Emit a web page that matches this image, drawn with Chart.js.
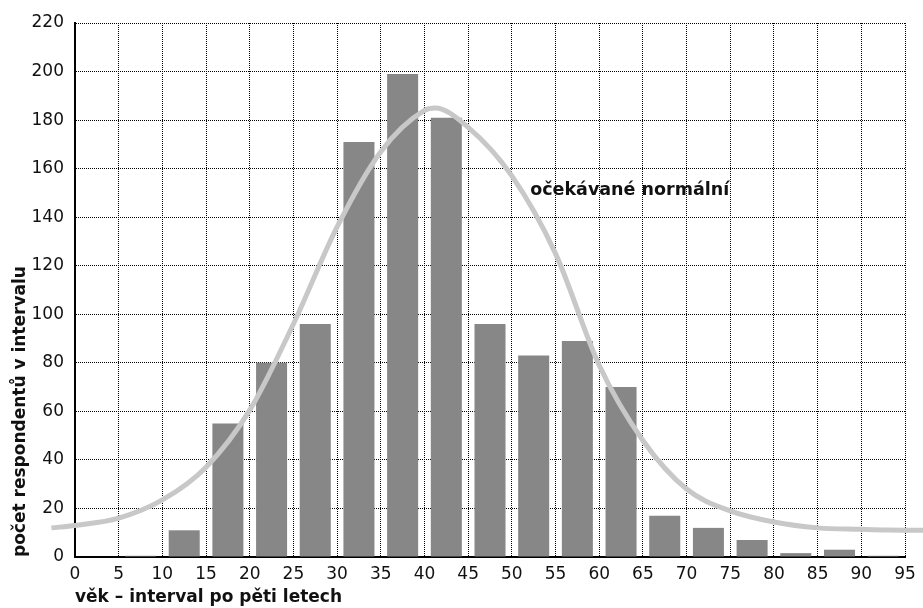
<!DOCTYPE html>
<html>
<head>
<meta charset="utf-8">
<script src="https://cdn.jsdelivr.net/npm/chart.js@4/dist/chart.umd.min.js"></script>
<style>
  html, body { margin: 0; padding: 0; background: #fff; }
  #wrap { width: 923px; height: 608px; }
</style>
</head>
<body>
<div id="wrap"><canvas id="chart" width="923" height="608"></canvas></div>
<script>
// age bins (start of each 5-year interval) and respondent counts
const binStarts = [0, 5, 10, 15, 20, 25, 30, 35, 40, 45, 50, 55, 60, 65, 70, 75, 80, 85, 90];
const counts    = [0, 0.5, 11, 55, 80, 96, 171, 199, 181, 96, 83, 89, 70, 17, 12, 7, 1.6, 3, 0.5];

// expected normal curve (runs a bit past both axis ends)
const curveX = [-2.7, 0, 5, 10, 15, 20, 25, 30, 35, 40, 41.2, 45, 50, 55, 60, 65, 70, 75, 80, 85, 90, 93, 97.2];
const curveY = [12, 13, 16, 23.5, 37, 60.5, 96, 136, 167, 184, 185, 177, 157, 125, 79, 48, 28, 19, 14.4, 12, 11.4, 11.1, 11];

const xTitle = 'věk – interval po pěti letech';
const yTitle = 'počet respondentů v intervalu';
const curveLabel = 'očekávané normální';

const FONT = '"DejaVu Sans", "Open Sans", sans-serif';

const barData = binStarts.map((s, i) => ({ x: s + 2.5, y: counts[i] }));
const curveData = curveX.map((x, i) => ({ x: x, y: curveY[i] }));

// label next to the curve
const curveLabelPlugin = {
  id: 'curveLabel',
  afterDatasetsDraw(chart) {
    const ctx = chart.ctx;
    const xs = chart.scales.x, ys = chart.scales.y;
    ctx.save();
    ctx.font = 'bold 17.5px ' + FONT;
    ctx.fillStyle = '#111';
    ctx.textAlign = 'left';
    ctx.textBaseline = 'middle';
    ctx.fillText(curveLabel, xs.getPixelForValue(52.1), ys.getPixelForValue(151));
    ctx.restore();
  }
};

new Chart(document.getElementById('chart'), {
  type: 'bar',
  data: {
    datasets: [
      {
        type: 'line',
        data: curveData,
        borderColor: '#c8c8c8',
        borderWidth: 5,
        pointRadius: 0,
        fill: false,
        cubicInterpolationMode: 'monotone',
        clip: false,
        order: 0
      },
      {
        type: 'bar',
        data: barData,
        backgroundColor: '#878787',
        borderWidth: 0,
        barPercentage: 0.71,
        categoryPercentage: 1,
        order: 1
      }
    ]
  },
  options: {
    responsive: false,
    animation: false,
    layout: { padding: { left: 0, right: 18, top: 23, bottom: 0 } },
    plugins: {
      legend: { display: false },
      tooltip: { enabled: false }
    },
    scales: {
      x: {
        type: 'linear',
        min: 0,
        max: 95,
        offset: false,
        ticks: { stepSize: 5, padding: 7, color: '#111', font: { family: FONT, size: 17 } },
        grid: { color: '#000', lineWidth: 1, drawTicks: false, offset: false },
        border: { display: true, color: '#000', width: 2, dash: [1, 1] },
        title: {
          display: true, text: xTitle, align: 'start', color: '#111',
          font: { family: FONT, size: 17, weight: 'bold' }, padding: { top: 0, bottom: 0 }
        },
        afterFit(scale) { scale.height = 51; }
      },
      y: {
        min: 0,
        max: 220,
        ticks: { stepSize: 20, padding: 11, color: '#111', font: { family: FONT, size: 17 } },
        grid: { color: '#000', lineWidth: 1, drawTicks: false },
        border: { display: true, color: '#000', width: 2, dash: [1, 1] },
        title: {
          display: true, text: yTitle, align: 'start', color: '#111',
          font: { family: FONT, size: 17, weight: 'bold' }, padding: { top: 10, bottom: 0 }
        },
        afterFit(scale) { scale.width = 75; }
      }
    }
  },
  plugins: [curveLabelPlugin]
});
</script>
</body>
</html>
